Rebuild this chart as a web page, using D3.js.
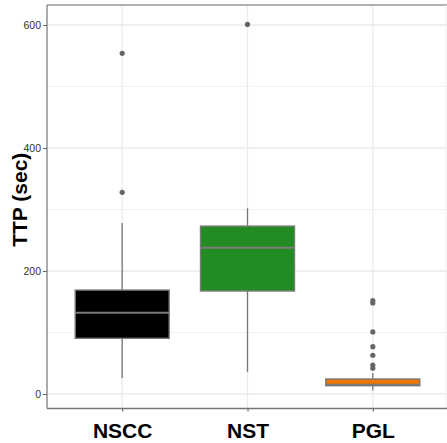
<!DOCTYPE html>
<html><head><meta charset="utf-8">
<script src="https://cdn.jsdelivr.net/npm/d3@7"></script>
<style>body{margin:0;background:#fff}svg{display:block}</style>
</head><body>
<svg id="c" width="447" height="443"></svg>
<script>
const categories = ["NSCC", "NST", "PGL"];
const fills = ["#000000", "#228B22", "#EE7600"];
const lowerWhisker = [26, 36, 5.5];
const q1 = [90.5, 167.5, 13.5];
const median = [132, 238, 15];
const q3 = [169, 273, 24.4];
const upperWhisker = [278, 302, 34];
const outliers = [[554, 328], [601], [152, 148, 101, 77, 63, 47, 42]];
const yTicks = [0, 200, 400, 600];
const yMinor = [100, 300, 500];
const yTitle = "TTP (sec)";

const svg = d3.select("#c");
const L = 47, R = 448, T = 5, B = 408.5;
const y = d3.scaleLinear().domain([0, 600]).range([394, 25]);
const x = d3.scalePoint().domain(categories).range([L, R]).padding(0.6);
const bw = x.step() * 0.75;

// grid
const g = svg.append("g");
g.selectAll(".minor").data(yMinor).join("line")
  .attr("x1", L).attr("x2", R).attr("y1", d => y(d)).attr("y2", d => y(d))
  .attr("stroke", "#f2f2f2").attr("stroke-width", 1);
g.selectAll(".major").data(yTicks).join("line")
  .attr("x1", L).attr("x2", R).attr("y1", d => y(d)).attr("y2", d => y(d))
  .attr("stroke", "#ebebeb").attr("stroke-width", 1.3);
g.selectAll(".vmajor").data(categories).join("line")
  .attr("x1", d => x(d)).attr("x2", d => x(d)).attr("y1", T).attr("y2", B)
  .attr("stroke", "#ebebeb").attr("stroke-width", 1.3);

// boxes
const bx = svg.append("g");
categories.forEach((c, i) => {
  const cx = x(c);
  bx.append("line").attr("x1", cx).attr("x2", cx)
    .attr("y1", y(upperWhisker[i])).attr("y2", y(q3[i]))
    .attr("stroke", "#777").attr("stroke-width", 1.3);
  bx.append("line").attr("x1", cx).attr("x2", cx)
    .attr("y1", y(q1[i])).attr("y2", y(lowerWhisker[i]))
    .attr("stroke", "#777").attr("stroke-width", 1.3);
  bx.append("rect").attr("x", cx - bw / 2).attr("width", bw)
    .attr("y", y(q3[i])).attr("height", y(q1[i]) - y(q3[i]))
    .attr("fill", fills[i]).attr("stroke", "#7a7a7a").attr("stroke-width", 1.4);
  bx.append("line").attr("x1", cx - bw / 2).attr("x2", cx + bw / 2)
    .attr("y1", y(median[i])).attr("y2", y(median[i]))
    .attr("stroke", "#7a7a7a").attr("stroke-width", 2);
  bx.selectAll(null).data(outliers[i]).join("circle")
    .attr("cx", cx).attr("cy", d => y(d)).attr("r", 2.6).attr("fill", "#666");
});

// panel border
svg.append("line").attr("x1", L).attr("x2", R).attr("y1", T).attr("y2", T)
  .attr("stroke", "#999").attr("stroke-width", 1.3);
svg.append("line").attr("x1", 446).attr("x2", 446).attr("y1", T).attr("y2", B)
  .attr("stroke", "#eee").attr("stroke-width", 1);

// axes
const ya = svg.append("g").attr("transform", `translate(${L},0)`)
  .call(d3.axisLeft(y).tickValues(yTicks).tickSize(4).tickPadding(2));
ya.select(".domain").attr("stroke", "#888").attr("stroke-width", 1.4)
  .attr("d", `M0,${T}V${B}`);
ya.selectAll(".tick line").attr("stroke", "#666");
ya.selectAll(".tick text").attr("font-family", "Liberation Sans, Arial, sans-serif")
  .attr("font-size", 10.5).attr("fill", "#333");

const xa = svg.append("g").attr("transform", `translate(0,${B})`)
  .call(d3.axisBottom(x).tickSize(3).tickPadding(11));
xa.select(".domain").attr("stroke", "#777").attr("stroke-width", 1.6)
  .attr("d", `M${L},0H${R}`);
xa.selectAll(".tick line").attr("stroke", "#555");
xa.selectAll(".tick text").attr("font-family", "Liberation Sans, Arial, sans-serif")
  .attr("font-size", 21).attr("font-weight", "bold").attr("fill", "#000")
  .attr("dy", null).attr("y", 29);

svg.append("text").attr("transform", `translate(27,${(T + B) / 2 - 7}) rotate(-90)`)
  .attr("text-anchor", "middle").attr("font-family", "Liberation Sans, Arial, sans-serif")
  .attr("font-size", 21).attr("font-weight", "bold").text(yTitle);
</script>
</body></html>
